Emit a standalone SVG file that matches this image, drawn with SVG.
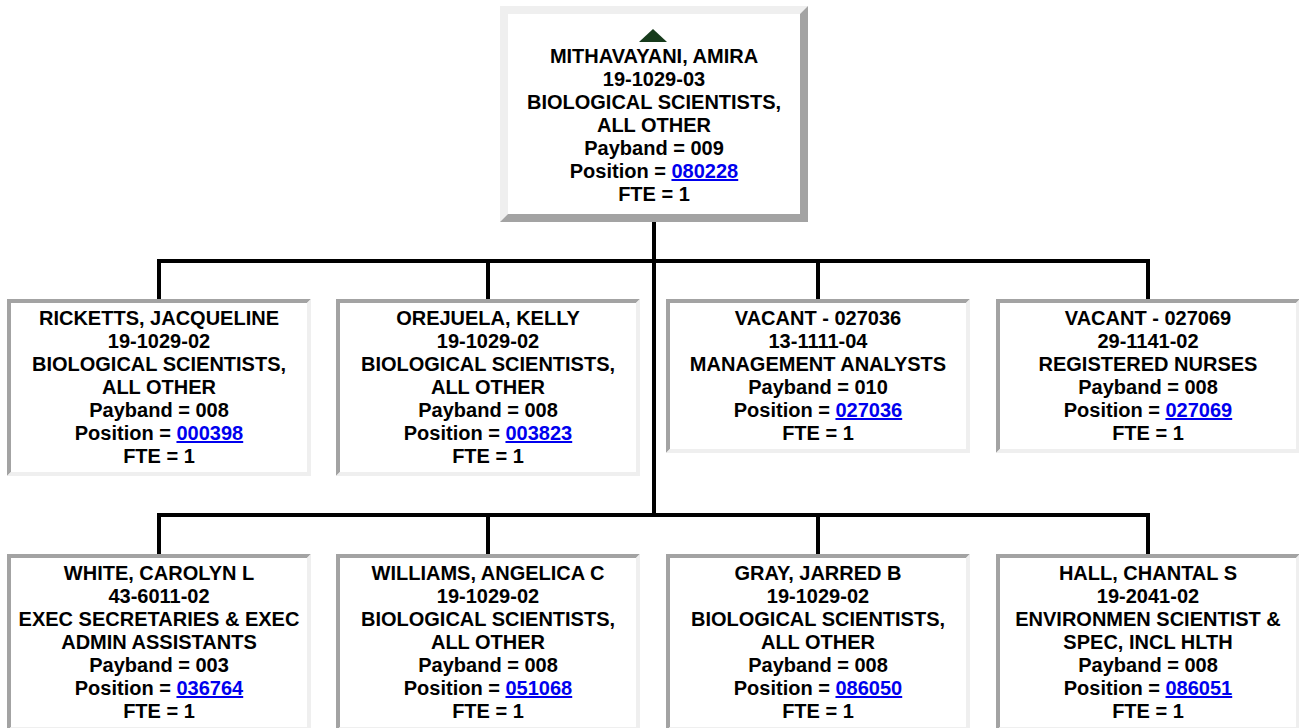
<svg xmlns="http://www.w3.org/2000/svg" xmlns:xlink="http://www.w3.org/1999/xlink" width="1299" height="728" viewBox="0 0 1299 728">
<style>
.t{font-family:"Liberation Sans",Arial,Helvetica,sans-serif;font-weight:bold;font-size:20px;fill:#000;text-anchor:middle}
.lk{fill:#0000ee;text-decoration:underline}
.dk{fill:#a3a3a3}
.lt{fill:#efefef}
.wh{fill:#fff}
.cn{stroke:#000;stroke-width:4;fill:none}
</style>
<defs>
<g id="boxT">
<polygon class="dk" points="0,0 304,0 300,4 4,4 4,173 0,177"/>
<polygon class="lt" points="304,0 304,177 0,177 4,173 300,173 300,4"/>
<rect class="wh" x="4" y="4" width="296" height="169"/>
</g>
<g id="boxS">
<polygon class="dk" points="0,0 304,0 300,4 4,4 4,150 0,154"/>
<polygon class="lt" points="304,0 304,154 0,154 4,150 300,150 300,4"/>
<rect class="wh" x="4" y="4" width="296" height="146"/>
</g>
<g id="boxR">
<polygon class="lt" points="0,0 308,0 300,8 8,8 8,208 0,216"/>
<polygon class="dk" points="308,0 308,216 0,216 8,208 300,208 300,8"/>
<rect class="wh" x="8" y="8" width="292" height="200"/>
</g>
</defs>
<rect width="1299" height="728" fill="#fff"/>
<g id="connectors">
<path class="cn" d="M654 222V517M157 261H1150M159 261V299M488 261V299M818 261V299M1148 261V299M157 515H1150M159 515V554M488 515V554M818 515V554M1148 515V554"/>
</g>
<g id="node-root">
<use xlink:href="#boxR" x="500" y="6"/>
<polygon points="639,42 653,29 667,42" fill="#173b1c"/>
<text class="t" y="63"><tspan x="654">MITHAVAYANI, AMIRA</tspan><tspan x="654" dy="23">19-1029-03</tspan><tspan x="654" dy="23">BIOLOGICAL SCIENTISTS,</tspan><tspan x="654" dy="23">ALL OTHER</tspan><tspan x="654" dy="23">Payband = 009</tspan><tspan x="654" dy="23">Position = <tspan class="lk">080228</tspan></tspan><tspan x="654" dy="23">FTE = 1</tspan></text>
</g>
<g id="node-ricketts">
<use xlink:href="#boxT" x="7" y="299"/>
<text class="t" y="325"><tspan x="159">RICKETTS, JACQUELINE</tspan><tspan x="159" dy="23">19-1029-02</tspan><tspan x="159" dy="23">BIOLOGICAL SCIENTISTS,</tspan><tspan x="159" dy="23">ALL OTHER</tspan><tspan x="159" dy="23">Payband = 008</tspan><tspan x="159" dy="23">Position = <tspan class="lk">000398</tspan></tspan><tspan x="159" dy="23">FTE = 1</tspan></text>
</g>
<g id="node-orejuela">
<use xlink:href="#boxT" x="336" y="299"/>
<text class="t" y="325"><tspan x="488">OREJUELA, KELLY</tspan><tspan x="488" dy="23">19-1029-02</tspan><tspan x="488" dy="23">BIOLOGICAL SCIENTISTS,</tspan><tspan x="488" dy="23">ALL OTHER</tspan><tspan x="488" dy="23">Payband = 008</tspan><tspan x="488" dy="23">Position = <tspan class="lk">003823</tspan></tspan><tspan x="488" dy="23">FTE = 1</tspan></text>
</g>
<g id="node-vacant-027036">
<use xlink:href="#boxS" x="666" y="299"/>
<text class="t" y="325"><tspan x="818">VACANT - 027036</tspan><tspan x="818" dy="23">13-1111-04</tspan><tspan x="818" dy="23">MANAGEMENT ANALYSTS</tspan><tspan x="818" dy="23">Payband = 010</tspan><tspan x="818" dy="23">Position = <tspan class="lk">027036</tspan></tspan><tspan x="818" dy="23">FTE = 1</tspan></text>
</g>
<g id="node-vacant-027069">
<use xlink:href="#boxS" x="996" y="299"/>
<text class="t" y="325"><tspan x="1148">VACANT - 027069</tspan><tspan x="1148" dy="23">29-1141-02</tspan><tspan x="1148" dy="23">REGISTERED NURSES</tspan><tspan x="1148" dy="23">Payband = 008</tspan><tspan x="1148" dy="23">Position = <tspan class="lk">027069</tspan></tspan><tspan x="1148" dy="23">FTE = 1</tspan></text>
</g>
<g id="node-white">
<use xlink:href="#boxT" x="7" y="554"/>
<text class="t" y="580"><tspan x="159">WHITE, CAROLYN L</tspan><tspan x="159" dy="23">43-6011-02</tspan><tspan x="159" dy="23">EXEC SECRETARIES &amp; EXEC</tspan><tspan x="159" dy="23">ADMIN ASSISTANTS</tspan><tspan x="159" dy="23">Payband = 003</tspan><tspan x="159" dy="23">Position = <tspan class="lk">036764</tspan></tspan><tspan x="159" dy="23">FTE = 1</tspan></text>
</g>
<g id="node-williams">
<use xlink:href="#boxT" x="336" y="554"/>
<text class="t" y="580"><tspan x="488">WILLIAMS, ANGELICA C</tspan><tspan x="488" dy="23">19-1029-02</tspan><tspan x="488" dy="23">BIOLOGICAL SCIENTISTS,</tspan><tspan x="488" dy="23">ALL OTHER</tspan><tspan x="488" dy="23">Payband = 008</tspan><tspan x="488" dy="23">Position = <tspan class="lk">051068</tspan></tspan><tspan x="488" dy="23">FTE = 1</tspan></text>
</g>
<g id="node-gray">
<use xlink:href="#boxT" x="666" y="554"/>
<text class="t" y="580"><tspan x="818">GRAY, JARRED B</tspan><tspan x="818" dy="23">19-1029-02</tspan><tspan x="818" dy="23">BIOLOGICAL SCIENTISTS,</tspan><tspan x="818" dy="23">ALL OTHER</tspan><tspan x="818" dy="23">Payband = 008</tspan><tspan x="818" dy="23">Position = <tspan class="lk">086050</tspan></tspan><tspan x="818" dy="23">FTE = 1</tspan></text>
</g>
<g id="node-hall">
<use xlink:href="#boxT" x="996" y="554"/>
<text class="t" y="580"><tspan x="1148">HALL, CHANTAL S</tspan><tspan x="1148" dy="23">19-2041-02</tspan><tspan x="1148" dy="23">ENVIRONMEN SCIENTIST &amp;</tspan><tspan x="1148" dy="23">SPEC, INCL HLTH</tspan><tspan x="1148" dy="23">Payband = 008</tspan><tspan x="1148" dy="23">Position = <tspan class="lk">086051</tspan></tspan><tspan x="1148" dy="23">FTE = 1</tspan></text>
</g>
</svg>
